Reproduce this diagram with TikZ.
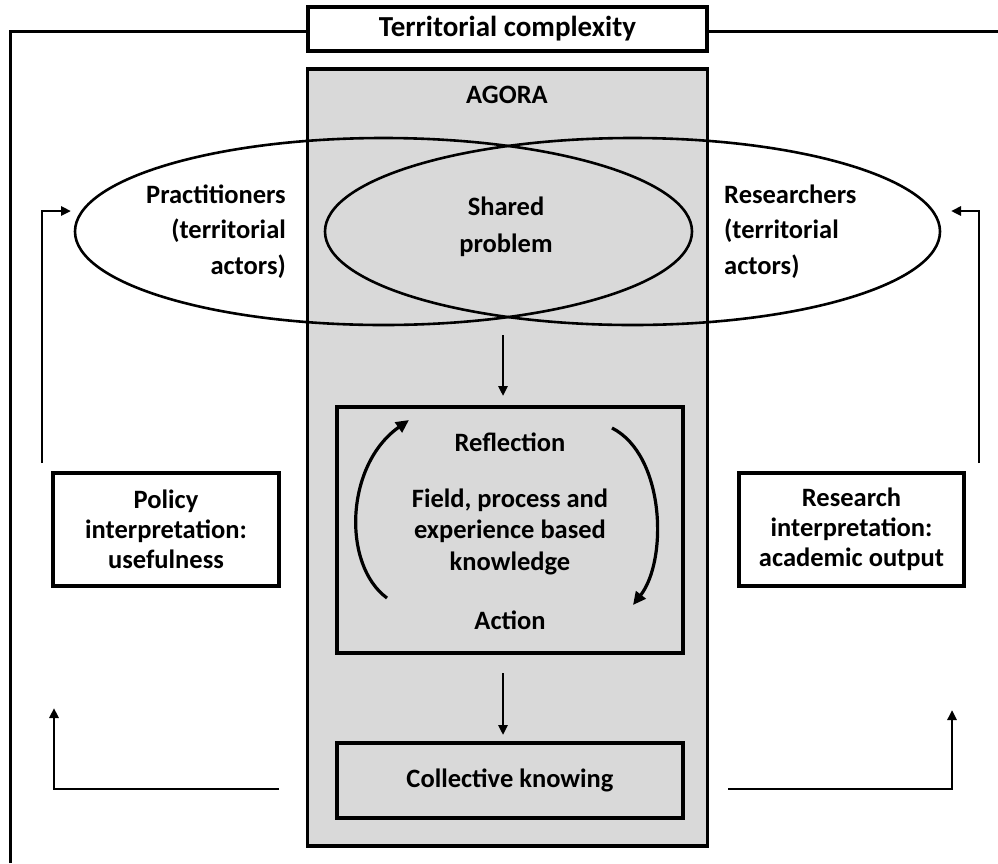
\documentclass[tikz,border=0pt]{standalone}
\usepackage{fontspec}
\setmainfont{Carlito}
\usetikzlibrary{arrows.meta,shapes.geometric}
\definecolor{agoragray}{HTML}{D9D9D9}
\begin{document}
\begin{tikzpicture}[x=1pt,y=-1pt,
  txt/.style={font=\bfseries\fontsize{26.5}{30}\selectfont, inner sep=0pt, text=black},
  frame/.style={line width=3pt, line join=miter},
  boxw/.style={draw, line width=3.2pt, fill=white, inner sep=0pt, txt, align=center},
  boxg/.style={draw, line width=3.2pt, fill=agoragray, inner sep=0pt, txt, align=center},
  ell/.style={draw, ellipse, line width=2.6pt, inner sep=0pt},
  arr/.style={line width=2.6pt, -{Triangle[length=10pt,width=9pt]}},
  cyc/.style={line width=3.2pt, -{Triangle[length=13pt,width=12pt]}}]
\useasboundingbox (0,0) rectangle (998,863);
\fill[white] (0,0) rectangle (998,863);

% AGORA background box
\node[boxg, minimum width=400pt, minimum height=777pt] (agora) at (507.5,457.5) {};
\node[txt] (agoratxt) at (507,95) {AGORA};

% ellipses
\node[ell, minimum width=617pt, minimum height=187pt] (lell) at (383.5,231.5) {};
\node[ell, minimum width=615pt, minimum height=187pt] (rell) at (632.5,231.5) {};

% top box
\node[boxw, minimum width=399pt, minimum height=44pt, font=\bfseries\fontsize{29}{32}\selectfont] (terr) at (507.5,29) {Territorial complexity};

% texts in ellipses
\node[txt, align=right, anchor=east, font=\bfseries\fontsize{26.5}{35.5}\selectfont] (prac) at (286,231.5) {Practitioners\\(territorial\\actors)};
\node[txt, align=left, anchor=west, font=\bfseries\fontsize{26.5}{35.5}\selectfont] (res) at (724,231.5) {Researchers\\(territorial\\actors)};
\node[txt, align=center, font=\bfseries\fontsize{26.5}{37}\selectfont] (shared) at (506,226.5) {Shared\\problem};

% inner boxes
\node[boxg, minimum width=346pt, minimum height=246pt] (inner) at (510,530) {};
\node[txt] (refl) at (510,442) {Reflection};
\node[txt, align=center, font=\bfseries\fontsize{26.5}{31.5}\selectfont] (field) at (510,531.5) {Field, process and\\experience based\\knowledge};
\node[txt] (action) at (510,620) {Action};
\node[boxg, minimum width=346pt, minimum height=75pt] (coll) at (510,780.5) {Collective knowing};

% side boxes
\node[boxw, minimum width=226pt, minimum height=113pt] (policy) at (166,529.5) {Policy\\interpretation:\\usefulness};
\node[boxw, minimum width=225pt, minimum height=113pt] (resint) at (851.5,529.5) {Research\\interpretation:\\academic output};

% outer frame line
\coordinate (fbl) at (10,863);
\coordinate (ftl) at (10,31);
\coordinate (fr) at (998,31);
\draw[frame] (fbl) -- (ftl) -- (terr.west |- ftl);
\draw[frame] (terr.east |- fr) -- (fr);

% vertical arrows in AGORA
\coordinate (a1s) at (503,335);
\coordinate (a1e) at (503,396);
\draw[arr] (a1s) -- (a1e);
\coordinate (a2s) at (503,673);
\coordinate (a2e) at (503,735);
\draw[arr] (a2s) -- (a2e);

% feedback arrows upper
\coordinate (lup0) at (42,463);
\coordinate (lup1) at (42,211);
\coordinate (lup2) at (71,211);
\draw[arr] (lup0) -- (lup1) -- (lup2);
\coordinate (rup0) at (979,463);
\coordinate (rup1) at (979,211);
\coordinate (rup2) at (951,211);
\draw[arr] (rup0) -- (rup1) -- (rup2);

% feedback arrows lower
\coordinate (llo0) at (279,789);
\coordinate (llo1) at (54,789);
\coordinate (llo2) at (54,708);
\draw[arr] (llo0) -- (llo1) -- (llo2);
\coordinate (rlo0) at (728,789);
\coordinate (rlo1) at (952,789);
\coordinate (rlo2) at (952,710);
\draw[arr] (rlo0) -- (rlo1) -- (rlo2);

% cycle arrows
\coordinate (cl0) at (387,598);
\coordinate (cl1) at (409,420);
\draw[cyc] (cl0) .. controls (342,565) and (345,465) .. (cl1);
\coordinate (cr0) at (612,428);
\coordinate (cr1) at (633,605);
\draw[cyc] (cr0) .. controls (665,455) and (668,560) .. (cr1);
\end{tikzpicture}
\end{document}
